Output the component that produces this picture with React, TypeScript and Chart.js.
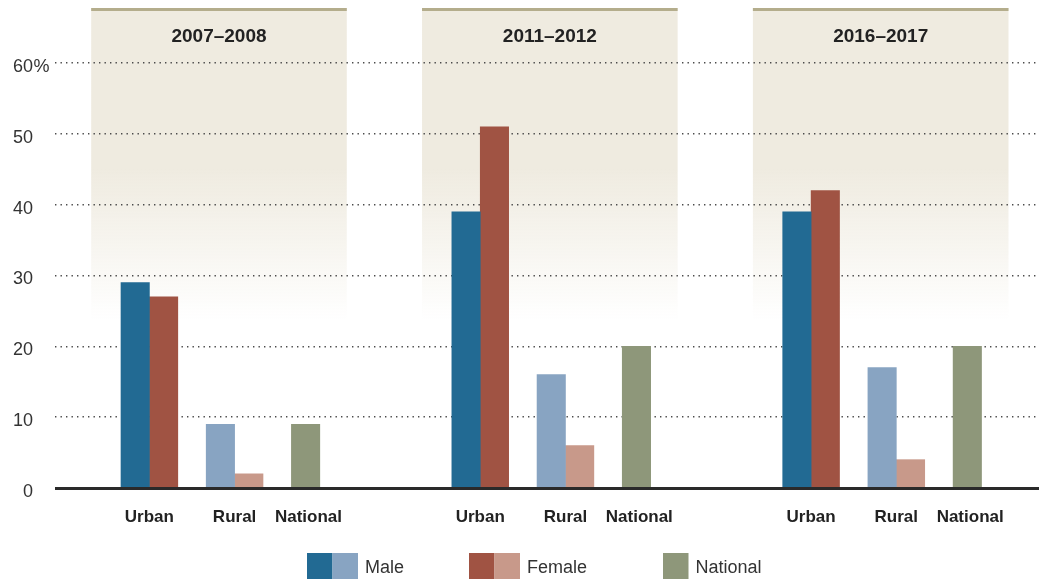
import React, { useEffect, useRef } from "react";
import { Chart, registerables } from "chart.js";

Chart.register(...registerables);

// ---------- data ----------
const periods = ["2007–2008", "2011–2012", "2016–2017"];
const categories = ["Urban", "Rural", "National"];
const maleUrban = [29, 39, 39];
const femaleUrban = [27, 51, 42];
const maleRural = [9, 16, 17];
const femaleRural = [2, 6, 4];
const nationalValues = [9, 20, 20];
const yTickValues = [0, 10, 20, 30, 40, 50, 60];
const legendLabels = ["Male", "Female", "National"];

// ---------- styles ----------
const MALE_DARK = "#226a93";
const MALE_LIGHT = "#88a4c2";
const FEMALE_DARK = "#a05343";
const FEMALE_LIGHT = "#c8998a";
const NATIONAL = "#8e977a";
const PANEL_FILL = "rgba(239,235,224,1)";
const PANEL_FADE = "rgba(239,235,224,0)";
const PANEL_LINE = "#b4ad8c";
const TEXT_DARK = "#222222";
const TEXT_MID = "#333333";
const NARROW = "'Liberation Sans Narrow', 'Liberation Sans', Arial, sans-serif";
const REGULAR = "'Liberation Sans', Arial, sans-serif";

// ---------- layout (x in bar-width units) ----------
const GROUP_STEP = 11.65;
const OFF_MALE_URBAN = 0.5;
const OFF_FEMALE_URBAN = 1.5;
const OFF_MALE_RURAL = 3.5;
const OFF_FEMALE_RURAL = 4.5;
const OFF_NATIONAL = 6.5;
const LABEL_OFFSETS = [1, 4, 6.6];
const PANEL_LEFT = -1.05;
const PANEL_RIGHT = 7.95;
const X_MIN = -2.324;
const X_MAX = 32.324;
const PANEL_SOLID_VALUE = 45;
const PANEL_END_VALUE = 23.6;

const pts = (vals: number[], off: number) =>
  vals.map((v, g) => ({ x: g * GROUP_STEP + off, y: v }));

const panelPlugin = {
  id: "panels",
  beforeDraw(chart: any) {
    const { ctx } = chart;
    const xs = chart.scales.x;
    const ys = chart.scales.y;
    const top = 8;
    const solidY = ys.getPixelForValue(PANEL_SOLID_VALUE);
    const endY = ys.getPixelForValue(PANEL_END_VALUE);
    ctx.save();
    periods.forEach((p, g) => {
      const x1 = xs.getPixelForValue(g * GROUP_STEP + PANEL_LEFT);
      const x2 = xs.getPixelForValue(g * GROUP_STEP + PANEL_RIGHT);
      const grad = ctx.createLinearGradient(0, top, 0, endY);
      const s = (solidY - top) / (endY - top);
      grad.addColorStop(0, PANEL_FILL);
      grad.addColorStop(s, PANEL_FILL);
      grad.addColorStop(1, PANEL_FADE);
      ctx.fillStyle = grad;
      ctx.fillRect(x1, top, x2 - x1, endY - top);
      ctx.fillStyle = PANEL_LINE;
      ctx.fillRect(x1, top, x2 - x1, 3);
      ctx.fillStyle = TEXT_DARK;
      ctx.font = `bold 19px ${REGULAR}`;
      ctx.textAlign = "center";
      ctx.textBaseline = "alphabetic";
      ctx.fillText(p, (x1 + x2) / 2, 42);
    });
    ctx.restore();
  },
  afterDatasetsDraw(chart: any) {
    const { ctx, chartArea } = chart;
    const ys = chart.scales.y;
    const y0 = ys.getPixelForValue(0);
    ctx.save();
    ctx.fillStyle = "#2a2a2a";
    ctx.fillRect(chartArea.left, y0 - 1, chartArea.right - chartArea.left, 3);
    ctx.restore();
  },
  afterDraw(chart: any) {
    const { ctx } = chart;
    const ys = chart.scales.y;
    ctx.save();
    // percent sign after the top tick
    ctx.font = `18px ${NARROW}`;
    ctx.fillStyle = TEXT_MID;
    ctx.textAlign = "left";
    ctx.textBaseline = "middle";
    ctx.fillText("%", ys.right - 22 + 0.5, ys.getPixelForValue(yTickValues[yTickValues.length - 1]) + 4);

    // legend
    const items = [
      { label: legendLabels[0], colors: [MALE_DARK, MALE_LIGHT], x: 307 },
      { label: legendLabels[1], colors: [FEMALE_DARK, FEMALE_LIGHT], x: 469 },
      { label: legendLabels[2], colors: [NATIONAL], x: 663 },
    ];
    const sw = 25.5;
    const sh = 26;
    const sy = 553;
    items.forEach((it) => {
      let x = it.x;
      it.colors.forEach((c) => {
        ctx.fillStyle = c;
        ctx.fillRect(x, sy, sw, sh);
        x += sw;
      });
      ctx.fillStyle = TEXT_MID;
      ctx.font = `18px ${NARROW}`;
      ctx.textAlign = "left";
      ctx.textBaseline = "alphabetic";
      ctx.fillText(it.label, x + 7, 573);
    });
    ctx.restore();
  },
};

export default function App() {
  const ref = useRef<HTMLCanvasElement | null>(null);

  useEffect(() => {
    document.body.style.margin = "0";
    const canvas = ref.current;
    if (!canvas) return;
    const common = { grouped: false, borderWidth: 0, categoryPercentage: 1, barPercentage: 1 };
    const chart = new Chart(canvas, {
      type: "bar",
      data: {
        datasets: [
          { label: "Male Urban", data: pts(maleUrban, OFF_MALE_URBAN), backgroundColor: MALE_DARK, ...common },
          { label: "Female Urban", data: pts(femaleUrban, OFF_FEMALE_URBAN), backgroundColor: FEMALE_DARK, ...common },
          { label: "Male Rural", data: pts(maleRural, OFF_MALE_RURAL), backgroundColor: MALE_LIGHT, ...common },
          { label: "Female Rural", data: pts(femaleRural, OFF_FEMALE_RURAL), backgroundColor: FEMALE_LIGHT, ...common },
          { label: "National", data: pts(nationalValues, OFF_NATIONAL), backgroundColor: NATIONAL, ...common },
        ] as any,
      },
      options: {
        responsive: false,
        animation: false,
        devicePixelRatio: 1,
        layout: { padding: { top: 63, bottom: 52, left: 0, right: 0 } },
        plugins: { legend: { display: false }, tooltip: { enabled: false } },
        scales: {
          x: {
            type: "linear",
            min: X_MIN,
            max: X_MAX,
            bounds: "data",
            offset: false,
            grid: { display: false, offset: false, drawTicks: false },
            border: { display: false },
            afterBuildTicks: (scale: any) => {
              scale.ticks = periods.flatMap((_, g) =>
                LABEL_OFFSETS.map((o) => ({ value: g * GROUP_STEP + o }))
              );
            },
            afterFit: (scale: any) => {
              scale.height = 40;
            },
            ticks: {
              autoSkip: false,
              maxRotation: 0,
              padding: 19,
              color: TEXT_DARK,
              font: { family: NARROW, size: 17, weight: "bold" },
              callback: (_v: any, i: number) => categories[i % categories.length],
            },
          },
          y: {
            min: yTickValues[0],
            max: yTickValues[yTickValues.length - 1],
            afterBuildTicks: (scale: any) => {
              scale.ticks = yTickValues.map((v) => ({ value: v }));
            },
            afterFit: (scale: any) => {
              scale.width = 55;
            },
            grid: { color: "#4a4a4a", lineWidth: 1.4, drawTicks: false },
            border: { display: false, dash: [1.4, 4.1] },
            ticks: {
              padding: 22,
              labelOffset: 4,
              color: TEXT_MID,
              font: { family: NARROW, size: 18 },
              callback: (v: any) => String(v),
            },
          },
        },
      } as any,
      plugins: [panelPlugin],
    });
    return () => chart.destroy();
  }, []);

  return (
    <div style={{ width: 1039, height: 580 }}>
      <canvas ref={ref} width={1039} height={580} />
    </div>
  );
}
